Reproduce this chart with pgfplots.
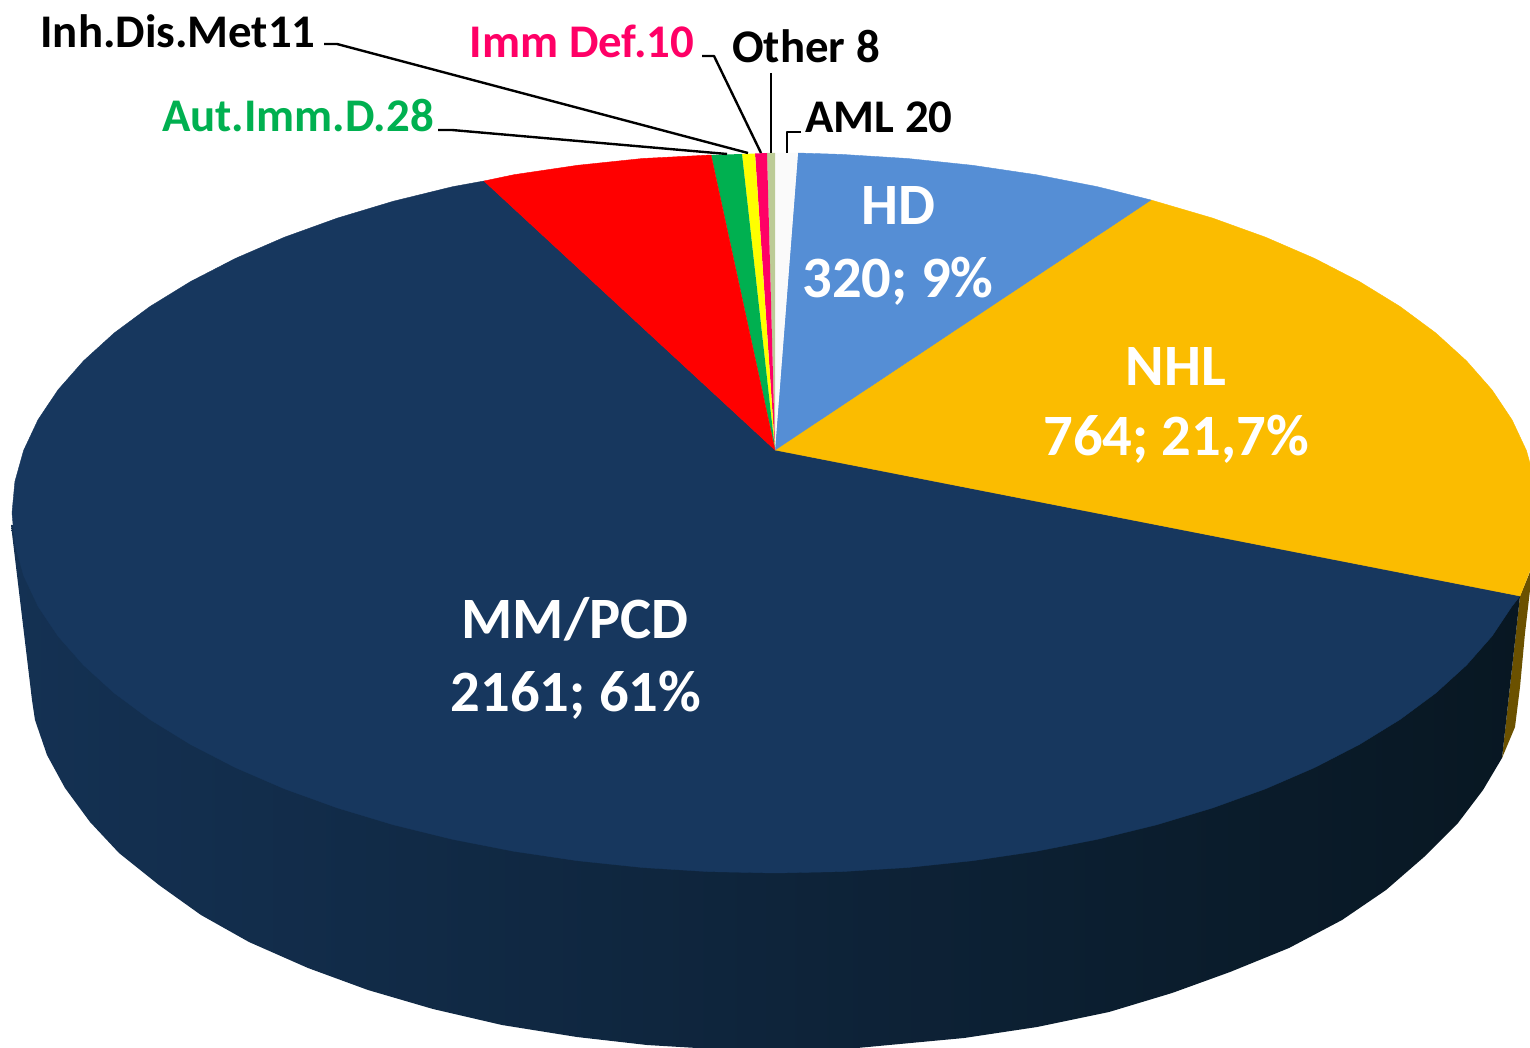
\documentclass[border=0pt]{standalone}
\usepackage{pgfplots}
\pgfplotsset{compat=1.18}
\usepackage{fontspec}
\setmainfont{Carlito}
\definecolor{mmc}{HTML}{17375E}
\definecolor{nhlc}{HTML}{FBBC00}
\definecolor{hdc}{HTML}{558ED5}
\definecolor{redc}{HTML}{FF0000}
\definecolor{greenc}{HTML}{00B050}
\definecolor{yellowc}{HTML}{FFFF00}
\definecolor{pinkc}{HTML}{FF0066}
\definecolor{lgc}{HTML}{BCCB96}
\definecolor{whitec}{HTML}{FAFAFA}
\definecolor{brownc}{HTML}{6B5100}
\definecolor{sideL}{HTML}{143153}
\definecolor{sideM}{HTML}{0D1E35}
\definecolor{sideR}{HTML}{081722}
\newcommand{\lgfont}{\fontsize{29.3}{29.3}\selectfont\bfseries}
\newcommand{\smfont}{\fontsize{23.4}{23.4}\selectfont\bfseries}
\begin{document}
\begin{tikzpicture}
\begin{axis}[
  scale only axis, width=765pt, height=524pt,
  xmin=0, xmax=1530, ymin=0, ymax=1048, y dir=reverse,
  hide axis, clip=true, clip bounding box=upper bound,
  every axis plot/.append style={no markers, line join=round},
]
% side walls
\addplot[draw=none, fill=brownc] coordinates {(1520,596)(1532,567)(1530,590)(1525,633)(1520,687)(1515,727)(1502,758)} --cycle;
\addplot[draw=none, left color=sideL, middle color=sideM, right color=sideR] coordinates {
(1520,596)(1502,758)(1483,790)(1458,823)(1424,857)(1386,890)(1342,920)(1289,948)(1230,972)(1172,993)(1109,1012)(1037,1027)(964,1038)(857,1048)(775,1051)(697,1048)(647,1045)(577,1037)(502,1025)(433,1009)(368,990)(308,968)(249,942)(201,915)(159,885)(119,853)(90,822)(65,788)(47,755)(35,720)(32,700)(11,525)(775,450)} --cycle;
% top: MM/PCD
\addplot[draw=mmc, line width=0.2pt, fill=mmc] coordinates {
(775,450)(484,181)(452.6,186.7)(393.5,201.2)(337.4,218.1)(284.5,237.2)(235.5,258.4)(190.5,281.6)(150,306.5)(114.2,333)(83.5,360.9)(58,389.9)(38,419.8)(23.6,450.5)(14.9,481.6)(12,513)(14.9,544.4)(23.6,575.5)(38,606.2)(58,636.1)(83.5,665.1)(114.2,693)(150,719.5)(190.5,744.4)(235.5,767.6)(284.5,788.8)(337.4,807.9)(393.5,824.8)(452.6,839.3)(514,851.3)(577.5,860.7)(642.5,867.5)(708.5,871.6)(775,873)(841.5,871.6)(907.5,867.5)(972.5,860.7)(1036,851.3)(1097.4,839.3)(1156.5,824.8)(1212.6,807.9)(1265.5,788.8)(1314.5,767.6)(1359.5,744.4)(1400,719.5)(1435.8,693)(1466.5,665.1)(1492,636.1)(1512,606.2)(1520,596)} --cycle;
% NHL
\addplot[draw=nhlc, line width=0.2pt, fill=nhlc] coordinates {
(775,450)(1520,596)(1538,550)(1538,513)(1535.1,481.6)(1526.4,450.5)(1512,419.8)(1492,389.9)(1466.5,360.9)(1435.8,333)(1400,306.5)(1359.5,281.6)(1314.5,258.4)(1265.5,237.2)(1212.6,218.1)(1151,200)} --cycle;
% HD
\addplot[draw=hdc, line width=0.2pt, fill=hdc] coordinates {
(775,450)(1151,200)(1097.4,186.7)(1036,174.7)(972.5,165.3)(907.5,158.5)(841.5,154.4)(798,153)} --cycle;
% small slices
\addplot[draw=none, fill=whitec] coordinates {(775,450)(798,153)(775,153)} --cycle;
\addplot[draw=none, fill=lgc] coordinates {(775,450)(775,153)(767,153)} --cycle;
\addplot[draw=none, fill=pinkc] coordinates {(775,450)(767,153)(755,153.5)} --cycle;
\addplot[draw=none, fill=yellowc] coordinates {(775,450)(755,153.5)(742,154)} --cycle;
\addplot[draw=none, fill=greenc] coordinates {(775,450)(742,154)(711,155)} --cycle;
\addplot[draw=redc, line width=0.2pt, fill=redc] coordinates {(775,450)(711,155)(642.5,158.5)(577.5,165.3)(514,174.7)(484,181)} --cycle;
% leader lines
\addplot[black, line width=1.2pt] coordinates {(324,44)(337,44)(748,153)};
\addplot[black, line width=1.2pt] coordinates {(438,130)(452,130)(727,154)};
\addplot[black, line width=1.2pt] coordinates {(702,56)(714,56)(761,153)};
\addplot[black, line width=1.2pt] coordinates {(771,73)(771,153)};
\addplot[black, line width=1.2pt] coordinates {(801,132)(787,132)(787,153)};
% labels
\node[white,font=\lgfont] at (axis cs:575,619) {MM/PCD};
\node[white,font=\lgfont] at (axis cs:576,695) {2161; 61\%};
\node[white,font=\lgfont] at (axis cs:1176,366) {NHL};
\node[white,font=\lgfont] at (axis cs:1176,439) {764; 21,7\%};
\node[white,font=\lgfont] at (axis cs:898,206) {HD};
\node[white,font=\lgfont] at (axis cs:898,281) {320; 9\%};
\node[black,font=\smfont] at (axis cs:178,31) {Inh.Dis.Met11};
\node[pinkc,font=\smfont] at (axis cs:582,41.5) {Imm Def.10};
\node[black,font=\smfont] at (axis cs:806,46) {Other 8};
\node[black,font=\smfont] at (axis cs:879,117) {AML 20};
\node[greenc,font=\smfont] at (axis cs:298,116) {Aut.Imm.D.28};
\path (axis cs:0,0) (axis cs:1530,1048);
\end{axis}
\end{tikzpicture}
\end{document}
